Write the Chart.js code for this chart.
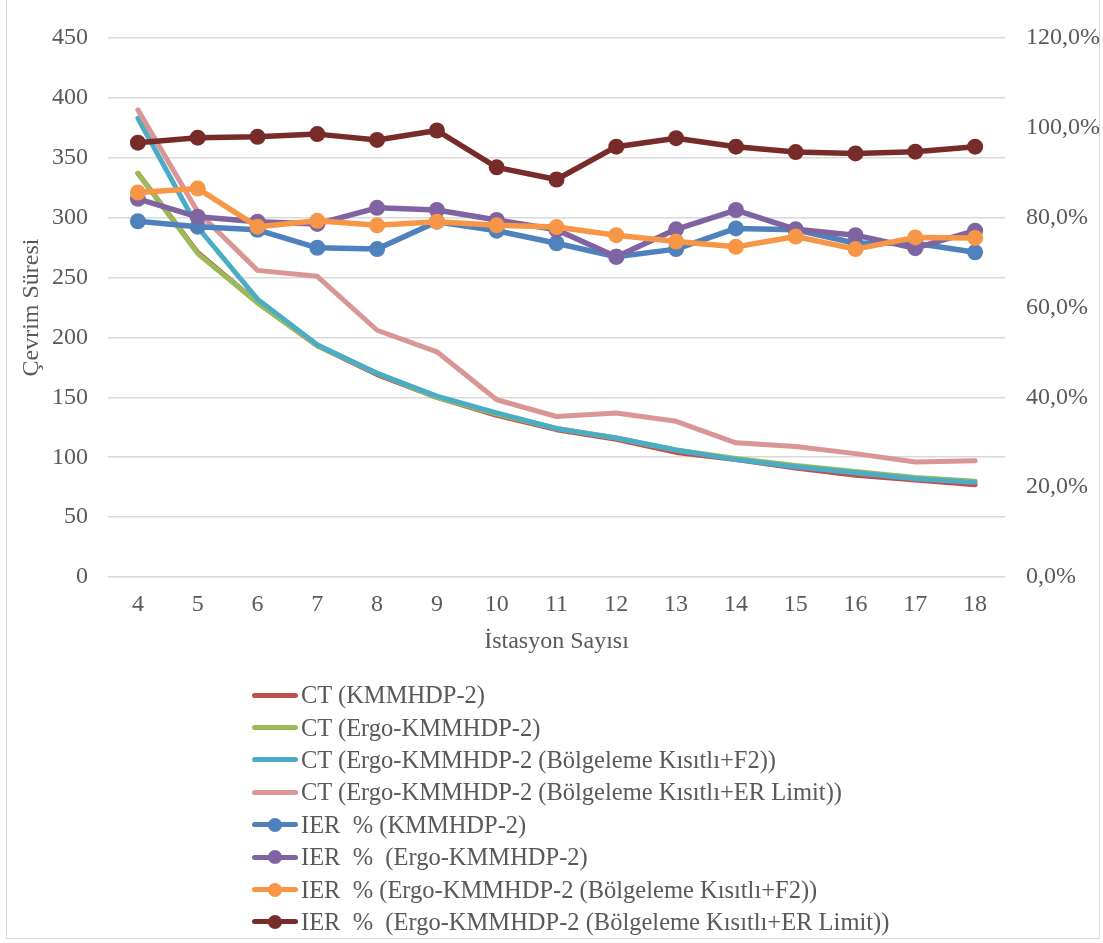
<!DOCTYPE html>
<html lang="tr">
<head>
<meta charset="utf-8">
<title>Çevrim Süresi ve IER</title>
<script src="https://cdn.jsdelivr.net/npm/chart.js@4.4.1/dist/chart.umd.min.js"></script>
<style>
  html, body { margin: 0; padding: 0; background: #ffffff; }
  body { width: 1103px; height: 943px; position: relative; overflow: hidden; font-family: "Liberation Serif", "Times New Roman", serif; }
  #frame { position: absolute; left: 6px; top: -2px; width: 1094px; height: 941px; border: 1px solid #D9D9D9; box-sizing: border-box; }
  #chart { position: absolute; left: 0; top: 0; }
  #legend { position: absolute; left: 252px; top: 679px; }
  .row { height: 32.4px; display: flex; align-items: center; white-space: pre; color: #595959; font-size: 24.5px; }
  .swatch { position: relative; width: 46px; height: 32px; margin-right: 3px; flex: none; }
  .swatch .ln { position: absolute; left: 0; right: 0; top: 13.5px; height: 5px; border-radius: 3px; }
  .swatch .dot { position: absolute; left: 16px; top: 9px; width: 14px; height: 14px; border-radius: 50%; }
</style>
</head>
<body>
<div id="frame"></div>
<canvas id="chart" width="1103" height="680"></canvas>
<div id="legend"></div>
<script>
// Station counts on the x axis
const stations = ['4','5','6','7','8','9','10','11','12','13','14','15','16','17','18'];

// Cycle time (left axis)
const ctKmmhdp2   = [337, 271, 229, 193, 169, 150, 135, 123, 115, 104, 98, 91, 85, 81, 77];
const ctErgo      = [337, 270, 229, 193, 170, 150, 136, 124, 116, 106, 99, 93, 88, 83, 80];
const ctErgoF2    = [383, 292, 232, 194, 170, 151, 137, 124, 116, 106, 98, 92, 87, 82, 79];
const ctErgoLimit = [390, 305, 256, 251, 206, 188, 148, 134, 137, 130, 112, 109, 103, 96, 97];

// IER % (right axis)
const ierKmmhdp2   = [79.2, 78.0, 77.3, 73.3, 73.0, 79.1, 77.1, 74.3, 71.3, 73.0, 77.6, 77.3, 74.3, 74.3, 72.3];
const ierErgo      = [84.2, 80.2, 79.1, 78.6, 82.2, 81.7, 79.5, 77.3, 71.3, 77.4, 81.7, 77.4, 76.1, 73.2, 77.1];
const ierErgoF2    = [85.6, 86.5, 78.0, 79.3, 78.3, 79.1, 78.3, 77.9, 76.1, 74.7, 73.5, 75.8, 73.0, 75.6, 75.5];
const ierErgoLimit = [96.7, 97.8, 98.0, 98.6, 97.3, 99.4, 91.2, 88.5, 95.8, 97.7, 95.8, 94.6, 94.3, 94.7, 95.8];

// Series names
const seriesNames = [
  'CT (KMMHDP-2)',
  'CT (Ergo-KMMHDP-2)',
  'CT (Ergo-KMMHDP-2 (Bölgeleme Kısıtlı+F2))',
  'CT (Ergo-KMMHDP-2 (Bölgeleme Kısıtlı+ER Limit))',
  'IER  % (KMMHDP-2)',
  'IER  %  (Ergo-KMMHDP-2)',
  'IER  % (Ergo-KMMHDP-2 (Bölgeleme Kısıtlı+F2))',
  'IER  %  (Ergo-KMMHDP-2 (Bölgeleme Kısıtlı+ER Limit))'
];

// Axis ranges
const leftAxisMax = 450, leftAxisStep = 50;
const rightAxisMax = 120, rightAxisStep = 20;

const colors = ['#C0504D', '#9BBB59', '#4BACC6', '#D99694', '#4F81BD', '#8064A2', '#F79646', '#772C2A'];
const seriesData = [ctKmmhdp2, ctErgo, ctErgoF2, ctErgoLimit, ierKmmhdp2, ierErgo, ierErgoF2, ierErgoLimit];

const FONT = '"Liberation Serif", "Times New Roman", serif';
const TEXT = '#595959';
const GRID = '#D9D9D9';
const AXIS_FONT = { family: FONT, size: 24 };

const datasets = seriesData.map((values, i) => {
  const isIer = i >= 4;
  return {
    label: seriesNames[i],
    data: values,
    yAxisID: isIer ? 'yRight' : 'yLeft',
    borderColor: colors[i],
    backgroundColor: colors[i],
    borderWidth: isIer ? 5.5 : 5,
    pointRadius: isIer ? 8 : 0,
    pointHoverRadius: isIer ? 8 : 0,
    pointBorderWidth: 0,
    pointBackgroundColor: colors[i],
    borderCapStyle: 'round',
    borderJoinStyle: 'round',
    tension: 0,
    fill: false,
    // later series are painted over earlier ones
    order: seriesData.length - i
  };
});

const chart = new Chart(document.getElementById('chart'), {
  type: 'line',
  data: { labels: stations, datasets },
  options: {
    responsive: false,
    devicePixelRatio: 1,
    animation: false,
    layout: { padding: { top: 38, right: 0, bottom: 0, left: 0 } },
    plugins: { legend: { display: false }, tooltip: { enabled: false } },
    scales: {
      x: {
        type: 'category',
        offset: true,
        grid: { display: false, drawTicks: false },
        border: { display: false },
        ticks: { color: TEXT, font: AXIS_FONT, padding: 13, maxRotation: 0, autoSkip: false },
        title: { display: true, text: 'İstasyon Sayısı', color: TEXT, font: AXIS_FONT, padding: { top: 0, bottom: 24 } },
        afterFit(scale) { scale.height = 103; }
      },
      yLeft: {
        position: 'left',
        min: 0, max: leftAxisMax,
        grid: { color: GRID, lineWidth: 1.5, drawTicks: false },
        border: { display: false },
        ticks: { stepSize: leftAxisStep, color: TEXT, font: AXIS_FONT, padding: 20 },
        title: { display: true, text: 'Çevrim Süresi', color: TEXT, font: AXIS_FONT, padding: { top: 17, bottom: 0 } },
        afterFit(scale) { scale.width = 108; }
      },
      yRight: {
        position: 'right',
        min: 0, max: rightAxisMax,
        grid: { display: false, drawTicks: false },
        border: { display: false },
        ticks: {
          stepSize: rightAxisStep, color: TEXT, font: AXIS_FONT, padding: 21,
          callback: (v) => v.toFixed(1).replace('.', ',') + '%'
        },
        afterFit(scale) { scale.width = 98; }
      }
    }
  }
});

// Legend: one entry per row under the plot
const legend = document.getElementById('legend');
chart.data.datasets.forEach((ds) => {
  const row = document.createElement('div');
  row.className = 'row';
  const sw = document.createElement('span');
  sw.className = 'swatch';
  const ln = document.createElement('span');
  ln.className = 'ln';
  ln.style.background = ds.borderColor;
  sw.appendChild(ln);
  if (ds.pointRadius > 0) {
    const dot = document.createElement('span');
    dot.className = 'dot';
    dot.style.background = ds.borderColor;
    sw.appendChild(dot);
  }
  const txt = document.createElement('span');
  txt.textContent = ds.label;
  row.appendChild(sw);
  row.appendChild(txt);
  legend.appendChild(row);
});
</script>
</body>
</html>
